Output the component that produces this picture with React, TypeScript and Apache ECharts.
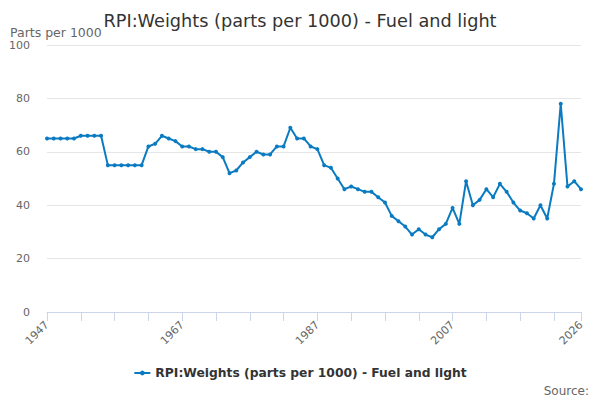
import React, { useEffect, useRef } from "react";
import * as echarts from "echarts";

const years: string[] = [];
for (let y = 1947; y <= 2026; y++) years.push(String(y));

const weights: number[] = [
  65, 65, 65, 65, 65, 66, 66, 66, 66, 55,
  55, 55, 55, 55, 55, 62, 63, 66, 65, 64,
  62, 62, 61, 61, 60, 60, 58, 52, 53, 56,
  58, 60, 59, 59, 62, 62, 69, 65, 65, 62,
  61, 55, 54, 50, 46, 47, 46, 45, 45, 43,
  41, 36, 34, 32, 29, 31, 29, 28, 31, 33,
  39, 33, 49, 40, 42, 46, 43, 48, 45, 41,
  38, 37, 35, 40, 35, 48, 78, 47, 49, 46,
];

const labelYears = ["1947", "1967", "1987", "2007", "2026"];

const FONT = "DejaVu Sans";

export default function App() {
  const ref = useRef<HTMLDivElement>(null);
  useEffect(() => {
    if (!ref.current) return;
    const chart = echarts.init(ref.current, undefined, { renderer: "svg" });
    const last = years.length - 1;
    chart.setOption({
      animation: false,
      textStyle: { fontFamily: FONT },
      title: {
        text: "RPI:Weights (parts per 1000) - Fuel and light",
        left: "center",
        top: 7,
        textStyle: { fontSize: 17.7, fontWeight: "normal", color: "#333333", fontFamily: FONT },
      },
      grid: { left: 47, right: 19, top: 45, bottom: 88 },
      legend: {
        bottom: 16,
        left: "center",
        itemWidth: 16,
        itemHeight: 6,
        textStyle: { fontSize: 12.3, fontWeight: "bold", color: "#333333", fontFamily: FONT },
        data: ["RPI:Weights (parts per 1000) - Fuel and light"],
      },
      xAxis: {
        type: "category",
        data: years,
        boundaryGap: false,
        axisLine: { lineStyle: { color: "#ccd6eb" } },
        axisTick: {
          length: 9,
          lineStyle: { color: "#ccd6eb" },
          interval: (i: number) => i % 5 === 0 || i === last,
        },
        axisLabel: {
          rotate: 45,
          fontSize: 11,
          color: "#666666",
          fontFamily: FONT,
          margin: 11,
          interval: (_i: number, v: string) => labelYears.includes(v),
        },
        splitLine: { show: false },
      },
      yAxis: {
        type: "value",
        min: 0,
        max: 100,
        interval: 20,
        axisLine: { show: false },
        axisTick: { show: false },
        axisLabel: { fontSize: 11, color: "#666666", margin: 17, fontFamily: FONT },
        splitLine: { lineStyle: { color: "#e6e6e6" } },
      },
      graphic: [
        {
          type: "text",
          left: 10,
          top: 26,
          style: { text: "Parts per 1000", fontSize: 12.5, fill: "#666666", fontFamily: FONT },
        },
        {
          type: "text",
          right: 11,
          bottom: 3,
          style: { text: "Source:", fontSize: 12, fill: "#666666", fontFamily: FONT },
        },
      ],
      series: [
        {
          name: "RPI:Weights (parts per 1000) - Fuel and light",
          type: "line",
          data: weights,
          symbol: "circle",
          symbolSize: 4,
          showAllSymbol: true,
          lineStyle: { color: "#0b7bc1", width: 2 },
          itemStyle: { color: "#0b7bc1" },
        },
      ],
    });
    return () => chart.dispose();
  }, []);
  return (
    <div
      ref={ref}
      style={{ position: "absolute", left: 0, top: 0, width: 600, height: 400 }}
    />
  );
}
